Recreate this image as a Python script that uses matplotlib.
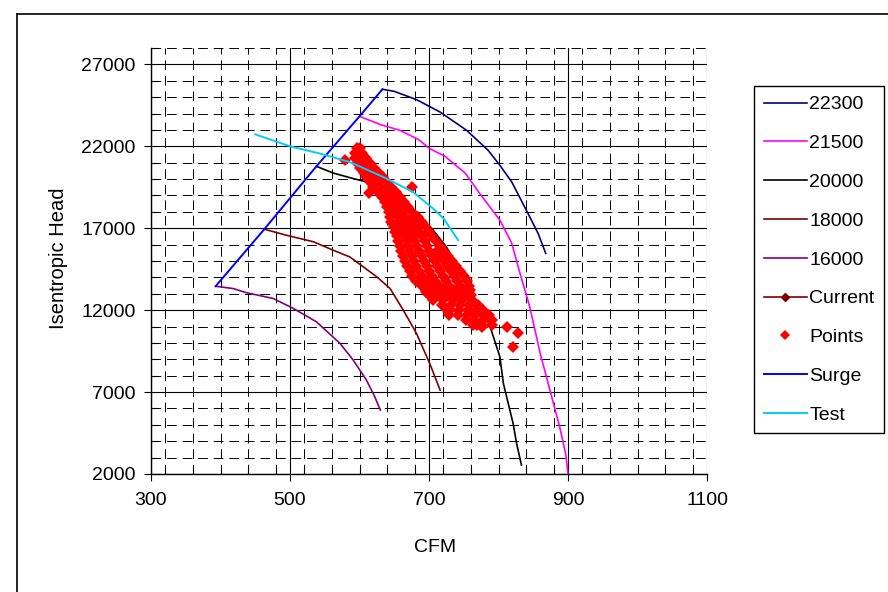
import matplotlib
matplotlib.use("Agg")
import matplotlib.pyplot as plt
from matplotlib.ticker import MultipleLocator
from matplotlib.lines import Line2D

plt.rcParams['font.family'] = ['Liberation Sans', 'DejaVu Sans']

# ---- speed curves (CFM, Isentropic Head) ----
s22300_x = [633, 650, 682, 716, 754, 785, 802, 819, 845, 857, 868]
s22300_y = [25480, 25355, 24850, 24090, 22980, 21760, 20840, 19830, 17690, 16680, 15460]

s21500_x = [600, 630, 658, 685, 701, 723, 752, 773, 802, 819, 831, 845, 860, 874, 888, 897, 900]
s21500_y = [23830, 23325, 22980, 22410, 21860, 21390, 20370, 19120, 17490, 16100, 14240, 12200,
            9360, 7120, 4880, 3160, 2000]

s20000_x = [538, 562, 591, 610, 639, 673, 706, 725, 740, 754, 773, 788, 802, 807, 814, 821, 826, 833]
s20000_y = [20780, 20370, 20030, 19830, 19010, 18300, 16880, 15860, 14750, 13630, 12200, 10980,
            9150, 7530, 6310, 5090, 3870, 2550]

s18000_x = [463, 495, 534, 562, 586, 625, 644, 663, 682, 701, 716]
s18000_y = [16940, 16570, 16170, 15660, 15250, 14030, 13320, 12000, 10580, 8750, 7120]

s16000_x = [393, 418, 438, 476, 505, 538, 572, 591, 610, 622, 630]
s16000_y = [13460, 13320, 13060, 12710, 12100, 11290, 9970, 8950, 7730, 6710, 5900]

surge_x = [393, 463, 538, 600, 633]
surge_y = [13460, 16940, 20780, 23830, 25480]

test_x = [450, 500, 543, 586, 634, 677, 706, 721, 742]
test_y = [22730, 22000, 21560, 21040, 20130, 19210, 18200, 17590, 16270]

current_x = []
current_y = []

# ---- measured points (read row by row off the cloud) ----
points_x = [596, 601,
            593, 604,
            593, 602, 610,
            597, 606, 615,
            601, 611, 621,
            606, 616, 628,
            610, 621, 634,
            615, 626, 640,
            620, 630, 640, 646,
            626, 636, 646, 652,
            632, 642, 651, 658,
            636, 646, 655, 664,
            639, 649, 659, 670,
            642, 652, 663, 676,
            644, 655, 666, 677, 684,
            646, 657, 668, 679, 690,
            649, 660, 671, 683, 696,
            651, 662, 674, 686, 700,
            654, 665, 677, 690, 705,
            656, 668, 680, 694, 710,
            658, 670, 683, 697, 716,
            660, 673, 686, 700, 712, 722,
            663, 676, 690, 704, 716, 728,
            666, 679, 693, 708, 721, 733,
            669, 682, 697, 712, 726, 739,
            672, 686, 700, 716, 731, 745,
            676, 690, 704, 720, 736, 750,
            682, 695, 709, 724, 740, 755,
            690, 702, 715, 729, 744, 758,
            695, 708, 721, 735, 749, 759,
            700, 714, 728, 741, 753, 760,
            706, 720, 734, 747, 762,
            718, 731, 744, 757, 770,
            730, 743, 756, 768, 778,
            742, 754, 766, 778, 786,
            753, 765, 777, 788,
            764, 776, 790,
            579, 613, 676, 696, 724, 729, 769, 776, 790, 812, 828, 821]
points_y = [21900, 21900,
            21600, 21600,
            21300, 21300, 21300,
            21000, 21000, 21000,
            20700, 20700, 20700,
            20400, 20400, 20400,
            20100, 20100, 20100,
            19800, 19800, 19800,
            19500, 19500, 19500, 19500,
            19200, 19200, 19200, 19200,
            18900, 18900, 18900, 18900,
            18600, 18600, 18600, 18600,
            18300, 18300, 18300, 18300,
            18000, 18000, 18000, 18000,
            17700, 17700, 17700, 17700, 17700,
            17400, 17400, 17400, 17400, 17400,
            17100, 17100, 17100, 17100, 17100,
            16800, 16800, 16800, 16800, 16800,
            16500, 16500, 16500, 16500, 16500,
            16200, 16200, 16200, 16200, 16200,
            15900, 15900, 15900, 15900, 15900,
            15600, 15600, 15600, 15600, 15600, 15600,
            15300, 15300, 15300, 15300, 15300, 15300,
            15000, 15000, 15000, 15000, 15000, 15000,
            14700, 14700, 14700, 14700, 14700, 14700,
            14400, 14400, 14400, 14400, 14400, 14400,
            14100, 14100, 14100, 14100, 14100, 14100,
            13800, 13800, 13800, 13800, 13800, 13800,
            13500, 13500, 13500, 13500, 13500, 13500,
            13200, 13200, 13200, 13200, 13200, 13200,
            12900, 12900, 12900, 12900, 12900, 12900,
            12600, 12600, 12600, 12600, 12600,
            12300, 12300, 12300, 12300, 12300,
            12000, 12000, 12000, 12000, 12000,
            11700, 11700, 11700, 11700, 11700,
            11400, 11400, 11400, 11400,
            11100, 11100, 11100,
            21150, 19120, 19520, 13120, 12040, 11700, 11090, 10980, 11390, 10980, 10580, 9760]

x_ticks = [300, 500, 700, 900, 1100]
y_ticks = [2000, 7000, 12000, 17000, 22000, 27000]

fig = plt.figure(figsize=(8.88, 5.92), dpi=100)
ax = fig.add_axes([151/888, 1-474/592, (707-151)/888, (474-48)/592])

ax.set_xlim(300, 1100)
ax.set_ylim(2000, 28000)
ax.set_xticks(x_ticks)
ax.set_yticks(y_ticks)
ax.xaxis.set_minor_locator(MultipleLocator(40))
ax.yaxis.set_minor_locator(MultipleLocator(1000))

ax.grid(which='major', color='black', linewidth=0.8, linestyle='-')
ax.grid(which='minor', color='black', linewidth=0.7, linestyle=(0, (10, 6)))
ax.set_axisbelow(True)

ax.tick_params(which='major', direction='out', length=5, width=0.8, labelsize=14, pad=6, colors='black')
ax.tick_params(which='minor', direction='in', length=5, width=0.8)
ax.tick_params(axis='x', which='major', pad=8)
for sp in ['top', 'right']:
    ax.spines[sp].set_visible(False)
for sp in ['left', 'bottom']:
    ax.spines[sp].set_linewidth(1.0)

lw = 1.2
ax.plot(s22300_x, s22300_y, color='#000080', lw=lw, label='22300')
ax.plot(s21500_x, s21500_y, color='#FF00FF', lw=lw, label='21500')
ax.plot(s20000_x, s20000_y, color='#000000', lw=lw, label='20000')
ax.plot(s18000_x, s18000_y, color='#800000', lw=lw, label='18000')
ax.plot(s16000_x, s16000_y, color='#800080', lw=lw, label='16000')
ax.plot(current_x, current_y, color='#800000', lw=lw, marker='D', markersize=5, label='Current')
ax.plot(points_x, points_y, linestyle='none', marker='D', markersize=6.4, color='#FF0000',
        markeredgewidth=0, label='Points')
ax.plot(surge_x, surge_y, color='#0000FF', lw=1.4, label='Surge')
ax.plot(test_x, test_y, color='#00CCFF', lw=1.4, label='Test')

ax.set_xlabel('CFM', fontsize=14)
ax.set_ylabel('Isentropic Head', fontsize=14.5)
ax.xaxis.set_label_coords((435-151)/556, (474-548)/426)
ax.xaxis.label.set_verticalalignment('center')
ax.yaxis.set_label_coords((58-151)/556, (474-258)/426)
ax.yaxis.label.set_verticalalignment('center')

leg = fig.legend(loc='upper left', bbox_to_anchor=(754/888, 1-86/592), fontsize=14,
                 frameon=True, fancybox=False, edgecolor='black', framealpha=1,
                 borderpad=0.5, labelspacing=1.09, handlelength=2.2, handletextpad=0.15,
                 borderaxespad=0, numpoints=1, markerscale=0.8)
leg.get_frame().set_linewidth(1.0)

# outer chart border
fig.add_artist(Line2D([17/888, 17/888], [0, 1-14/592], color='black', lw=1.2, transform=fig.transFigure))
fig.add_artist(Line2D([17/888, 1], [1-14/592, 1-14/592], color='black', lw=1.2, transform=fig.transFigure))

fig.savefig('out.png', dpi=100)
